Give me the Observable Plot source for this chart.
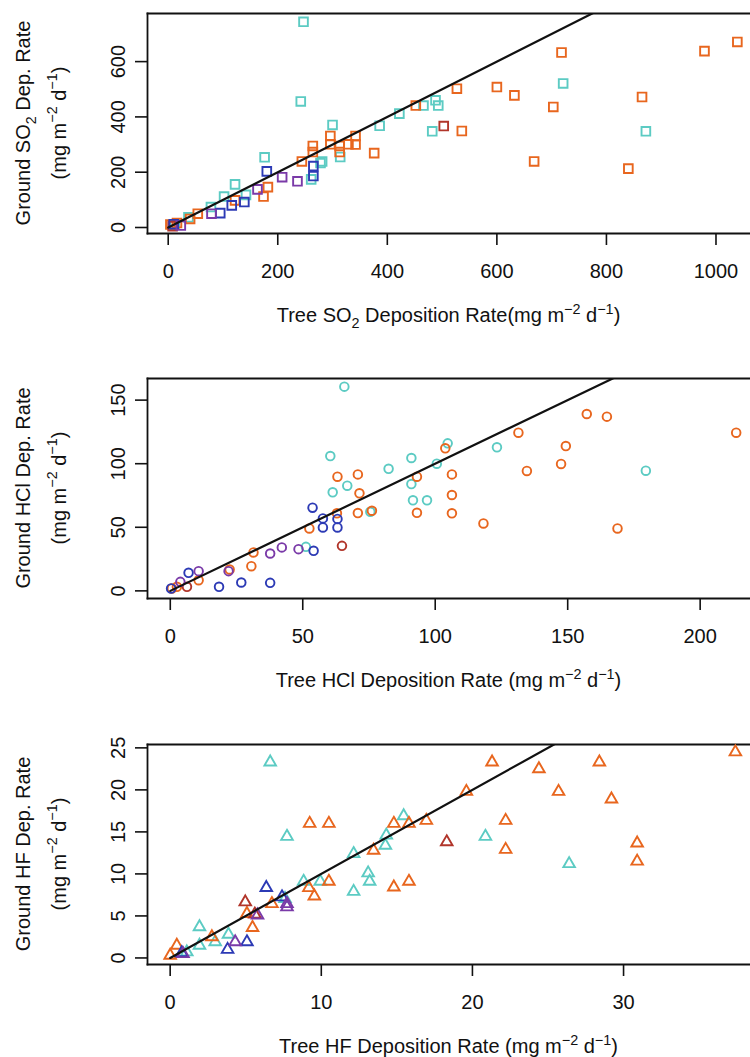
<!DOCTYPE html>
<html><head><meta charset="utf-8">
<script src="https://cdn.jsdelivr.net/npm/d3@7"></script>
<script src="https://cdn.jsdelivr.net/npm/@observablehq/plot@0.6"></script>
<style>
html,body{margin:0;padding:0;background:#fff;}
#chart{width:750px;}
#chart svg{display:block;}
</style></head><body><div id="chart"></div>
<script>
const FONT = '"Liberation Sans", Arial, Helvetica, sans-serif';
// series order and colours
const seriesNames = ["cyan", "orange", "darkred", "blue", "purple"];
const seriesColors = ["#5ccbc3", "#e8661e", "#b1352a", "#2c3ab5", "#7a3aa8"];

// ---------- SO2 panel: [tree, ground] ----------
const so2Cyan = [[247,744],[242,456],[300,371],[176,254],[122,156],[102,112],[142,118],[78,74],[37,37],[281,239],[278,233],[261,174],[314,255],[386,368],[422,412],[466,441],[488,460],[493,441],[482,348],[721,521],[872,348],[12,10]];
const so2Orange = [[4,11],[16,16],[40,31],[54,50],[122,98],[174,112],[182,146],[244,239],[264,295],[264,273],[296,331],[296,301],[313,295],[313,273],[329,301],[342,331],[342,300],[376,269],[452,441],[527,502],[536,349],[600,508],[632,478],[718,633],[703,436],[668,239],[865,472],[840,213],[979,638],[1039,671]];
const so2DarkRed = [[503,367],[8,5]];
const so2Blue = [[180,203],[139,92],[116,80],[95,52],[265,222],[265,186],[10,12]];
const so2Purple = [[208,182],[236,167],[163,138],[79,50],[23,7]];
const so2XTicks = [0,200,400,600,800,1000];
const so2YTicks = [0,200,400,600];
const so2OneToOne = [0, 1200];

// ---------- HCl panel ----------
const hclCyan = [[65.7,160.6],[60.4,106],[61.3,77.5],[66.8,82.7],[82.4,96],[91,104.5],[91,84],[91.6,71.2],[96.9,71.2],[100.6,100],[104.7,116],[75.5,62.2],[51.2,34.6],[123.3,112.9],[179.5,94.5]];
const hclOrange = [[63.1,89.8],[70.8,91.6],[71.4,76.7],[70.8,61.2],[76.1,63],[62.9,61],[52.5,49.1],[31.4,30.2],[30.6,19.4],[22.4,16.8],[10.7,8.4],[93.1,89.8],[93.1,61.4],[103.8,112.1],[106.3,91.6],[106.3,75.4],[106.3,61],[0.6,1.9],[2.5,3.2],[118.2,53],[131.4,124.4],[134.6,94.3],[147.5,99.8],[149.3,113.9],[157.2,139.1],[164.8,137],[168.8,49.1],[213.6,124.4]];
const hclDarkRed = [[64.8,35.4],[6.3,3.2]];
const hclBlue = [[53.7,65.4],[57.6,57],[57.6,49.9],[63.1,56.6],[63.1,49.9],[54.1,31.5],[37.7,6.3],[26.8,6.6],[18.4,3.2],[6.9,14.2],[0.3,1.9]];
const hclPurple = [[42.1,34.2],[37.7,29.4],[48.4,32.8],[22,15.5],[10.7,15.5],[3.8,7.1]];
const hclXTicks = [0,50,100,150,200];
const hclYTicks = [0,50,100,150];
const hclOneToOne = [0, 250];

// ---------- HF panel ----------
const hfCyan = [[6.62,23.3],[7.73,14.45],[1.94,3.7],[1.94,1.5],[2.98,1.9],[3.86,2.8],[1.1,0.7],[8.83,9.1],[9.93,9.1],[7.6,7.05],[12.14,12.4],[13.1,10.1],[13.2,9.1],[12.14,7.9],[14.24,13.4],[14.3,14.6],[15.45,16.9],[20.86,14.45],[26.4,11.2]];
const hfOrange = [[9.23,16],[10.5,16],[14.8,16],[15.8,16],[16.95,16.35],[13.46,12.8],[14.8,8.43],[15.8,9.1],[10.5,9.1],[9.18,8.35],[9.54,7.36],[6.73,6.45],[5.08,5.27],[5.45,3.6],[2.76,2.5],[0.44,1.5],[0,0.3],[19.6,19.8],[21.3,23.3],[24.4,22.5],[25.7,19.8],[28.4,23.3],[29.2,18.9],[22.2,16.35],[22.2,12.9],[30.9,13.66],[30.9,11.5],[37.4,24.5]];
const hfDarkRed = [[4.97,6.65],[18.3,13.8],[5.6,5.2]];
const hfBlue = [[6.36,8.36],[7.4,7.25],[5.08,1.9],[3.8,1.0],[0.77,0.6]];
const hfPurple = [[7.73,6.45],[7.73,6.06],[4.3,1.9],[5.78,5.1],[0.85,0.5]];
const hfXTicks = [0,10,20,30];
const hfYTicks = [0,5,10,15,20,25];
const hfOneToOne = [0, 40];

// ---------- axis titles ----------
const unitParts = [["(mg m"],["\u22122","sup"],[" d"],["\u22121","sup"],[")"]];
const so2YTitle = [["Ground SO"],["2","sub"],[" Dep. Rate"]];
const so2XTitle = [["Tree SO"],["2","sub"],[" Deposition Rate(mg m"],["\u22122","sup"],[" d"],["\u22121","sup"],[")"]];
const hclYTitle = [["Ground HCl Dep. Rate"]];
const hclXTitle = [["Tree HCl Deposition Rate (mg m"],["\u22122","sup"],[" d"],["\u22121","sup"],[")"]];
const hfYTitle = [["Ground HF Dep. Rate"]];
const hfXTitle = [["Tree HF Deposition Rate (mg m"],["\u22122","sup"],[" d"],["\u22121","sup"],[")"]];

function richText(svg, x, y, rotate, parts, size) {
  const t = d3.select(svg).append("text")
    .attr("transform", `translate(${x},${y})` + (rotate ? ` rotate(${rotate})` : ""))
    .attr("text-anchor", "middle")
    .attr("font-family", FONT)
    .attr("font-size", size)
    .attr("fill", "#111");
  let shift = 0;
  for (const [s, kind] of parts) {
    const target = kind === "sup" ? -0.42 * size : kind === "sub" ? 0.28 * size : 0;
    t.append("tspan")
      .attr("dy", target - shift)
      .attr("font-size", kind ? size * 0.72 : size)
      .text(s);
    shift = target;
  }
}

function makePanel(cfg) {
  const W = 750, ML = 147;
  const series = [cfg.cyan, cfg.orange, cfg.darkred, cfg.blue, cfg.purple];
  const marks = [
    Plot.frame({anchor: "top", stroke: "#111", strokeWidth: 1.8}),
    Plot.frame({anchor: "bottom", stroke: "#111", strokeWidth: 1.8}),
    Plot.frame({anchor: "left", stroke: "#111", strokeWidth: 1.8}),
    Plot.axisX(cfg.xTicks, {tickSize: 12, tickPadding: 18.6, fontSize: 20, label: null, strokeWidth: 1.6,
      tickFormat: d => String(d)}),
    Plot.axisY(cfg.yTicks, {tickSize: 12, tickPadding: 10.4, fontSize: 20, label: null, strokeWidth: 1.6,
      tickFormat: d => String(d), tickRotate: -90, textAnchor: "middle", lineAnchor: "bottom"}),
    ...series.map((d, i) => Plot.dot(d, {
      x: p => p[0], y: p => p[1], symbol: cfg.symbol, r: cfg.r,
      stroke: seriesColors[i], fill: "none", strokeWidth: 1.9
    })),
    Plot.line(cfg.line.map(v => [v, v]), {x: p => p[0], y: p => p[1], stroke: "#111", strokeWidth: 2.2, clip: true})
  ];
  const svg = Plot.plot({
    width: W, height: cfg.height,
    marginLeft: ML, marginRight: 0, marginTop: cfg.mt, marginBottom: cfg.mb,
    x: {domain: cfg.xDomain},
    y: {domain: cfg.yDomain},
    style: {fontFamily: FONT, color: "#111", background: "#fff", overflow: "visible"},
    marks
  });
  const frameBottom = cfg.height - cfg.mb;
  const frameMid = (cfg.mt + frameBottom) / 2;
  richText(svg, 30, frameMid, -90, cfg.yTitle, 20);
  richText(svg, 65.5, frameMid, -90, unitParts, 20);
  richText(svg, (ML + W) / 2, frameBottom + 89, 0, cfg.xTitle, 20);
  return svg;
}

const chart = document.getElementById("chart");
chart.appendChild(makePanel({
  cyan: so2Cyan, orange: so2Orange, darkred: so2DarkRed, blue: so2Blue, purple: so2Purple,
  xTicks: so2XTicks, yTicks: so2YTicks, line: so2OneToOne,
  xDomain: [-37.8, 1063], yDomain: [-21.7, 774],
  symbol: "square", r: 4.9, height: 340, mt: 13, mb: 107,
  yTitle: so2YTitle, xTitle: so2XTitle
}));
chart.appendChild(makePanel({
  cyan: hclCyan, orange: hclOrange, darkred: hclDarkRed, blue: hclBlue, purple: hclPurple,
  xTicks: hclXTicks, yTicks: hclYTicks, line: hclOneToOne,
  xDomain: [-8.6, 219], yDomain: [-6, 167],
  symbol: "circle", r: 4.3, height: 365, mt: 38, mb: 107,
  yTitle: hclYTitle, xTitle: hclXTitle
}));
chart.appendChild(makePanel({
  cyan: hfCyan, orange: hfOrange, darkred: hfDarkRed, blue: hfBlue, purple: hfPurple,
  xTicks: hfXTicks, yTicks: hfYTicks, line: hfOneToOne,
  xDomain: [-1.5, 38.4], yDomain: [-0.78, 25.4],
  symbol: "triangle", r: 4.3, height: 352, mt: 39, mb: 93,
  yTitle: hfYTitle, xTitle: hfXTitle
}));
</script></body></html>
